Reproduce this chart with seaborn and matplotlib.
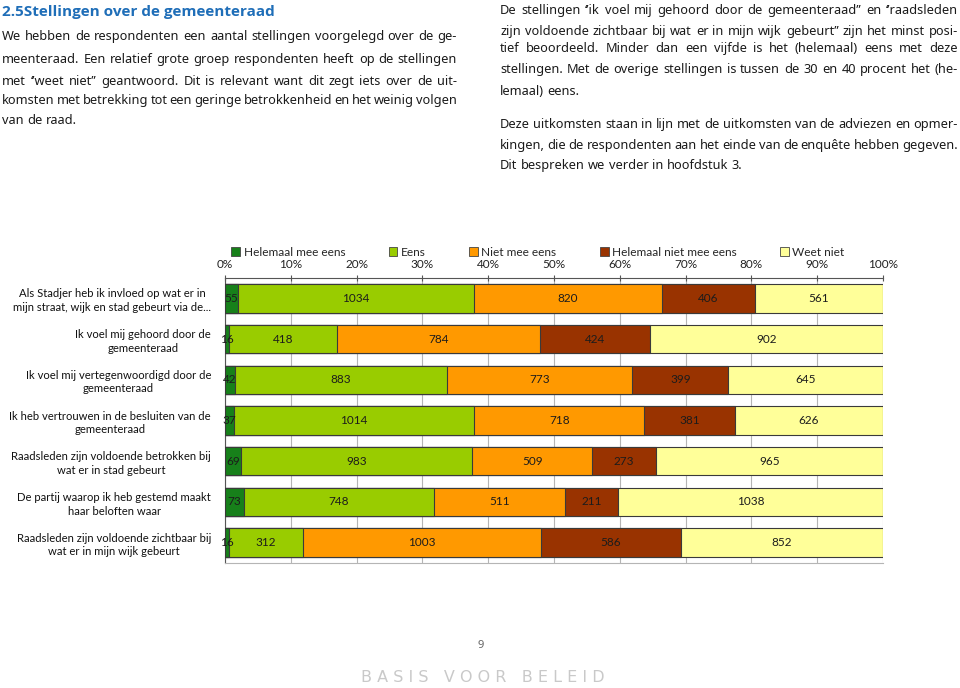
import numpy as np
import pandas as pd
import matplotlib
matplotlib.use("Agg")
import matplotlib.pyplot as plt
from matplotlib.patches import Patch
import seaborn as sns

# ---------------- data ----------------
statements = [
    "Als Stadjer heb ik invloed op wat er in\nmijn straat, wijk en stad gebeurt via de...",
    "Ik voel mij gehoord door de\ngemeenteraad",
    "Ik voel mij vertegenwoordigd door de\ngemeenteraad",
    "Ik heb vertrouwen in de besluiten van de\ngemeenteraad",
    "Raadsleden zijn voldoende betrokken bij\nwat er in stad gebeurt",
    "De partij waarop ik heb gestemd maakt\nhaar beloften waar",
    "Raadsleden zijn voldoende zichtbaar bij\nwat er in mijn wijk gebeurt",
]
categories = ["Helemaal mee eens", "Eens", "Niet mee eens", "Helemaal niet mee eens", "Weet niet"]
helemaal_mee_eens = [55, 16, 42, 37, 69, 73, 16]
eens = [1034, 418, 883, 1014, 983, 748, 312]
niet_mee_eens = [820, 784, 773, 718, 509, 511, 1003]
helemaal_niet_mee_eens = [406, 424, 399, 381, 273, 211, 586]
weet_niet = [561, 902, 645, 626, 965, 1038, 852]
tick_labels = ["0%", "10%", "20%", "30%", "40%", "50%", "60%", "70%", "80%", "90%", "100%"]

colors = ["#17801a", "#99cc00", "#ff9900", "#993300", "#ffff99"]

counts = np.array([helemaal_mee_eens, eens, niet_mee_eens, helemaal_niet_mee_eens, weet_niet], dtype=float).T
pct = counts / counts.sum(axis=1, keepdims=True) * 100
cum = np.cumsum(pct, axis=1)

df = pd.DataFrame(cum, columns=categories)
df["stelling"] = statements

# ---------------- figure ----------------
sns.set_style("white")
fig = plt.figure(figsize=(9.6, 6.88), dpi=100)
W, H = 960, 688

def fx(px):
    return px / W

def fy(py):
    return 1 - py / H

ax = fig.add_axes([fx(225), fy(563), fx(883) - fx(225), fy(278) - fy(563)])

for i in range(len(categories) - 1, -1, -1):
    sns.barplot(data=df, x=categories[i], y="stelling", order=statements, orient="h",
                color=colors[i], saturation=1, width=0.7, edgecolor="#3a3a3a",
                linewidth=0.8, ax=ax, zorder=3)

chart_font = "Lato"
for r in range(len(statements)):
    left = 0.0
    for c in range(len(categories)):
        center = left + pct[r, c] / 2
        ax.text(center, r, f"{int(counts[r, c])}", ha="center", va="center",
                fontsize=8.5, color="#1c1c1c", family=chart_font, zorder=5)
        left = cum[r, c]

ax.set_xlim(0, 100)
ax.set_ylim(len(statements) - 0.5, -0.5)
ax.set_xlabel("")
ax.set_ylabel("")
ax.xaxis.tick_top()
ax.set_xticks(np.arange(0, 101, 10))
ax.set_xticklabels(tick_labels, family=chart_font, fontsize=8.5, color="#222222")
ax.tick_params(axis="x", which="major", direction="inout", length=5, width=0.8,
               color="#555555", pad=3)
ax.set_yticks(range(len(statements)))
ax.set_yticklabels(statements, family=chart_font, fontsize=8.1, color="#111111")
for t in ax.get_yticklabels():
    t.set_multialignment("center")
    t.set_linespacing(1.3)
ax.set_yticks(np.arange(-0.5, len(statements), 1), minor=True)
ax.tick_params(axis="y", which="major", length=0, pad=10)
ax.tick_params(axis="y", which="minor", direction="out", length=4, width=0.8, color="#666666")
ax.grid(axis="x", color="#b5b5b5", linewidth=0.8, zorder=0)
ax.set_axisbelow(True)
ax.spines["right"].set_visible(False)
ax.spines["top"].set_color("#555555")
ax.spines["left"].set_color("#555555")
ax.spines["bottom"].set_color("#b5b5b5")
for s in ax.spines.values():
    s.set_linewidth(0.8)

handles = [Patch(facecolor=colors[i], edgecolor="#444444", linewidth=0.6, label=categories[i])
           for i in range(len(categories))]
fig.legend(handles=handles, loc="center", bbox_to_anchor=(fx(538), fy(252)), ncol=5,
           frameon=False, prop={"family": chart_font, "size": 8.6}, handlelength=0.75,
           handleheight=0.75, handletextpad=0.3, columnspacing=3.6, borderpad=0)

# ---------------- page text ----------------
page_font = "Noto Sans"
page_size = 9.2
renderer = fig.canvas.get_renderer()

def justify_line(text, x0, x1, y, justify=True):
    words = text.split(" ")
    objs = []
    widths = []
    for w in words:
        t = fig.text(0, 0, w, family=page_font, fontsize=page_size, color="#1a1a1a",
                     va="baseline", ha="left")
        bb = t.get_window_extent(renderer=renderer)
        objs.append(t)
        widths.append(bb.width)
    if justify and len(words) > 1:
        gap = ((x1 - x0) - sum(widths)) / (len(words) - 1)
    else:
        sp = fig.text(0, 0, "a a", family=page_font, fontsize=page_size)
        sp2 = fig.text(0, 0, "aa", family=page_font, fontsize=page_size)
        gap = sp.get_window_extent(renderer=renderer).width - sp2.get_window_extent(renderer=renderer).width
        sp.remove()
        sp2.remove()
    x = x0
    for t, w in zip(objs, widths):
        t.set_position((fx(x), fy(y)))
        x += w + gap

fig.text(fx(2), fy(16), "2.5Stellingen over de gemeenteraad", family=["Open Sans", "DejaVu Sans"],
         fontsize=11, fontweight="bold", color="#1f6eb8", va="baseline")

left_lines = [
    ("We hebben de respondenten een aantal stellingen voorgelegd over de ge-", True),
    ("meenteraad. Een relatief grote groep respondenten heeft op de stellingen", True),
    ("met \u2018\u2019weet niet\u2019\u2019 geantwoord. Dit is relevant want dit zegt iets over de uit-", True),
    ("komsten met betrekking tot een geringe betrokkenheid en het weinig volgen", True),
    ("van de raad.", False),
]
left_y = [40, 63, 85, 104, 124]
for (txt, j), y in zip(left_lines, left_y):
    justify_line(txt, 2, 457, y, j)

right_lines = [
    ("De stellingen \u2018\u2019ik voel mij gehoord door de gemeenteraad\u2019\u2019 en \u2018\u2019raadsleden", True),
    ("zijn voldoende zichtbaar bij wat er in mijn wijk gebeurt\u2019\u2019 zijn het minst posi-", True),
    ("tief beoordeeld. Minder dan een vijfde is het (helemaal) eens met deze", True),
    ("stellingen. Met de overige stellingen is tussen de 30 en 40 procent het (he-", True),
    ("lemaal) eens.", False),
    ("Deze uitkomsten staan in lijn met de uitkomsten van de adviezen en opmer-", True),
    ("kingen, die de respondenten aan het einde van de enquête hebben gegeven.", True),
    ("Dit bespreken we verder in hoofdstuk 3.", False),
]
right_y = [14, 35, 52, 73, 95, 128, 149, 169]
for (txt, j), y in zip(right_lines, right_y):
    justify_line(txt, 500, 958, y, j)

fig.text(fx(481), fy(645), "9", family=page_font, fontsize=8, color="#666666",
         ha="center", va="center")
fig.text(fx(483), fy(678), "B A S I S   V O O R   B E L E I D", family="DejaVu Sans",
         fontsize=11.5, color="#c9c9c9", ha="center", va="center")

fig.savefig("out.png", dpi=100)
